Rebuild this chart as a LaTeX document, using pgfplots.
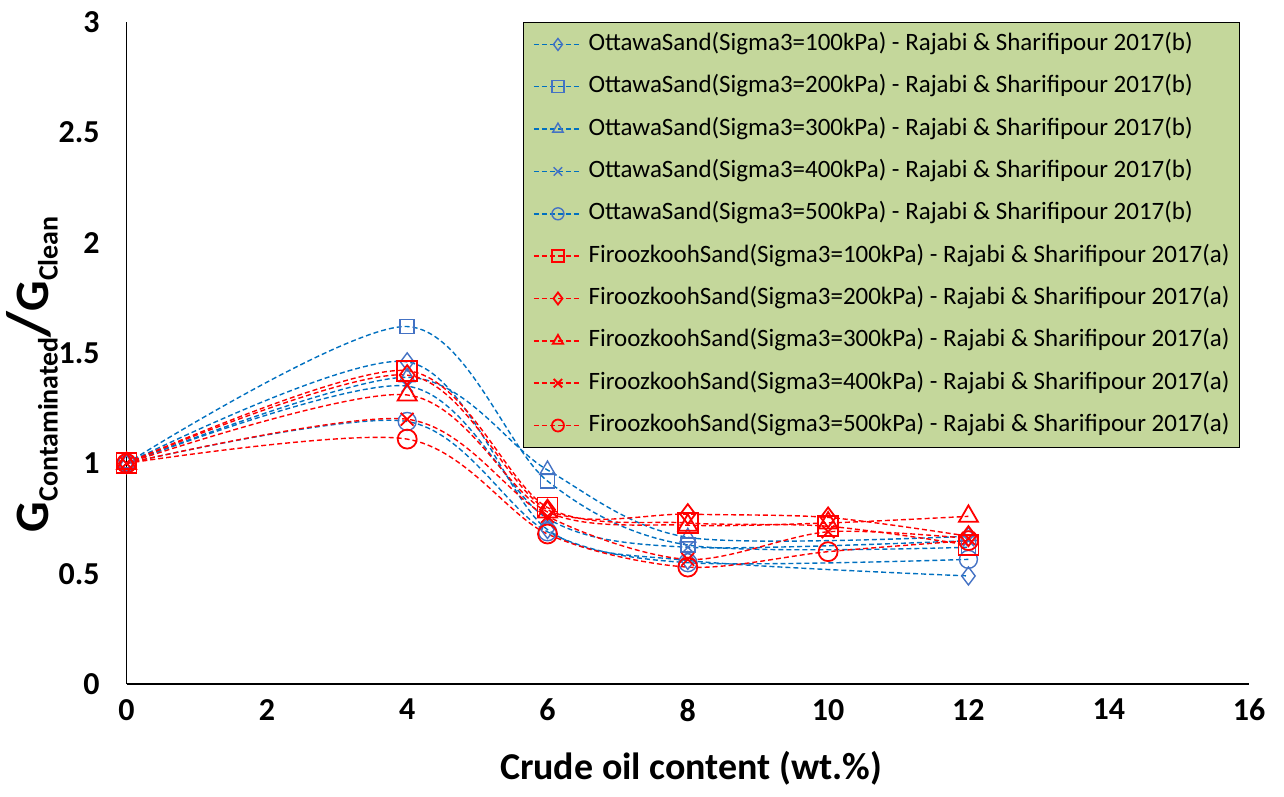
\documentclass[border=0pt]{standalone}
\usepackage{fontspec}
\setmainfont{Carlito}
\usepackage{pgfplots}
\pgfplotsset{compat=1.18}
\definecolor{oblue}{RGB}{0,112,192}
\definecolor{mblue}{RGB}{68,114,196}
\definecolor{lgreen}{RGB}{196,215,155}

\pgfplotsset{
  bl/.style={oblue, line width=0.7pt, dash pattern=on 2.5pt off 1.5pt, smooth,
    mark options={solid, draw=mblue, line width=0.7pt, fill=none}},
  rd/.style={red, line width=0.7pt, dash pattern=on 2.5pt off 1.5pt, smooth,
    mark options={solid, draw=red, line width=0.9pt, fill=none}},
}

\begin{document}
\begin{tikzpicture}
\begin{axis}[
  scale only axis, width=562pt, height=331.5pt,
  xmin=0, xmax=16, ymin=0, ymax=3,
  xtick={0,2,4,6,8,10,12,14,16}, ytick={0,0.5,1,1.5,2,2.5,3},
  axis lines=left, axis line style={-, line width=0.8pt, black},
  major tick length=0pt,
  clip=false,
  tick label style={font=\fontsize{16}{16}\selectfont\bfseries},
  /pgf/number format/assume math mode=true,
  xticklabel style={yshift=-4pt},
  yticklabel style={xshift=-10pt},
  xlabel={Crude oil content (wt.\%)},
  xlabel style={at={(rel axis cs:0.503,-0.127)}, anchor=center,
    font=\fontsize{19}{19}\selectfont\bfseries},
  ylabel={G\raisebox{-4.5pt}{\fontsize{14}{14}\selectfont Contaminated}{\fontsize{30}{30}\selectfont/}G\raisebox{-4.5pt}{\fontsize{14}{14}\selectfont Clean}},
  ylabel style={at={(rel axis cs:-0.084,0.468)}, anchor=center,
    font=\fontsize{24}{24}\selectfont\bfseries},
  legend style={at={(0.353,1)}, anchor=north west, fill=lgreen, draw=black,
    line width=0.5pt, font=\fontsize{12.5}{14}\selectfont,
    cells={anchor=west}, nodes={inner sep=0pt, text height=9pt, text depth=3pt},
    row sep=9.2pt, inner xsep=5pt, inner ysep=5pt},
  legend image code/.code={\draw[mark repeat=2, mark phase=2, #1, mark size=3pt]
    plot coordinates {(0pt,0pt) (12pt,0pt) (24pt,0pt)}; \path (27pt,0pt);},
]
% Ottawa sand
\addplot[bl, mark=diamond, mark size=4.5pt] coordinates {(0,1)(4,1.46)(6,0.70)(8,0.56)(12,0.49)};
\addlegendentry{OttawaSand(Sigma3=100kPa) - Rajabi \& Sharifipour 2017(b)}
\addplot[bl, mark=square, mark size=3.5pt] coordinates {(0,1)(4,1.62)(6,0.92)(8,0.63)(12,0.62)};
\addlegendentry{OttawaSand(Sigma3=200kPa) - Rajabi \& Sharifipour 2017(b)}
\addplot[bl, mark=triangle, mark size=4.5pt] coordinates {(0,1)(4,1.39)(6,0.97)(8,0.665)(12,0.67)};
\addlegendentry{OttawaSand(Sigma3=300kPa) - Rajabi \& Sharifipour 2017(b)}
\addplot[bl, mark=x, mark size=4pt] coordinates {(0,1)(4,1.35)(6,0.75)(8,0.62)(12,0.65)};
\addlegendentry{OttawaSand(Sigma3=400kPa) - Rajabi \& Sharifipour 2017(b)}
\addplot[bl, mark=o, mark size=4.5pt] coordinates {(0,1)(4,1.19)(6,0.69)(8,0.55)(12,0.565)};
\addlegendentry{OttawaSand(Sigma3=500kPa) - Rajabi \& Sharifipour 2017(b)}
% Firoozkooh sand
\addplot[rd, mark=square, mark size=5pt] coordinates {(0,1)(4,1.42)(6,0.80)(8,0.73)(10,0.715)(12,0.63)};
\addlegendentry{FiroozkoohSand(Sigma3=100kPa) - Rajabi \& Sharifipour 2017(a)}
\addplot[rd, mark=diamond, mark size=5pt] coordinates {(0,1)(4,1.40)(6,0.79)(8,0.77)(10,0.755)(12,0.67)};
\addlegendentry{FiroozkoohSand(Sigma3=200kPa) - Rajabi \& Sharifipour 2017(a)}
\addplot[rd, mark=triangle, mark size=5.5pt] coordinates {(0,1)(4,1.31)(6,0.78)(8,0.72)(10,0.73)(12,0.76)};
\addlegendentry{FiroozkoohSand(Sigma3=300kPa) - Rajabi \& Sharifipour 2017(a)}
\addplot[rd, mark=x, mark size=4.5pt] coordinates {(0,1)(4,1.20)(6,0.76)(8,0.565)(10,0.69)(12,0.66)};
\addlegendentry{FiroozkoohSand(Sigma3=400kPa) - Rajabi \& Sharifipour 2017(a)}
\addplot[rd, mark=o, mark size=4.75pt] coordinates {(0,1)(4,1.11)(6,0.68)(8,0.53)(10,0.60)(12,0.65)};
\addlegendentry{FiroozkoohSand(Sigma3=500kPa) - Rajabi \& Sharifipour 2017(a)}
\path ([xshift=-62.5pt,yshift=-56.5pt]rel axis cs:0,0) rectangle ([xshift=17.5pt,yshift=11pt]rel axis cs:1,1);
\end{axis}
\end{tikzpicture}
\end{document}
